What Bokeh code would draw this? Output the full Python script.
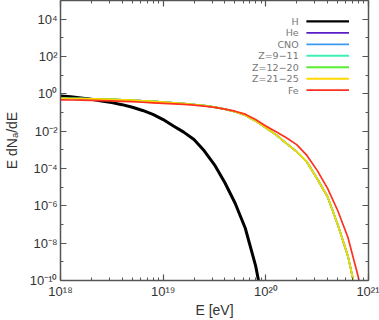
import numpy as np
from bokeh.plotting import figure
from bokeh.models import (LogAxis, FixedTicker, CustomJSTickFormatter,
                          Range1d, ColumnDataSource)
from bokeh.embed import file_html
from bokeh.resources import INLINE
from bokeh.core.properties import value

# ---------------- data (log10 values) ----------------
log10_E = [18.0, 18.1, 18.2, 18.3, 18.4, 18.5, 18.6, 18.7, 18.8, 18.9,
           19.0, 19.1, 19.2, 19.3, 19.4, 19.5, 19.6, 19.7, 19.8, 19.9,
           20.0, 20.1, 20.2, 20.3, 20.4, 20.5, 20.6, 20.7, 20.8, 20.9, 21.0]

log10_H = [-0.11, -0.16, -0.22, -0.29, -0.38, -0.47, -0.58, -0.72, -0.89, -1.10,
           -1.38, -1.72, -2.05, -2.45, -3.05, -3.80, -4.75, -5.85, -7.20, -9.20,
           -12.0]

log10_Z21_25 = [-0.24, -0.25, -0.26, -0.27, -0.28, -0.30, -0.32, -0.34, -0.37, -0.40,
                -0.44, -0.48, -0.52, -0.57, -0.63, -0.71, -0.82, -0.96, -1.15, -1.45,
                -1.82, -2.20, -2.65, -3.10, -3.65, -4.55, -5.50, -7.00, -8.70, -11.2]

log10_Fe = [-0.32, -0.33, -0.34, -0.35, -0.36, -0.38, -0.40, -0.42, -0.45, -0.48,
            -0.51, -0.54, -0.57, -0.60, -0.66, -0.73, -0.82, -0.93, -1.09, -1.38,
            -1.72, -2.03, -2.35, -2.72, -3.30, -4.10, -5.05, -6.25, -7.70, -9.80,
            -12.5]

# intermediate groups are hidden beneath the Z=21-25 curve
log10_He = log10_Z21_25
log10_CNO = log10_Z21_25
log10_Z9_11 = log10_Z21_25
log10_Z12_20 = log10_Z21_25

species = ["H", "He", "CNO", "Z=9\u221211", "Z=12\u221220", "Z=21\u221225", "Fe"]
series = [log10_H, log10_He, log10_CNO, log10_Z9_11, log10_Z12_20, log10_Z21_25, log10_Fe]
colors = ["#000000", "#5a1ec8", "#3a9af0", "#3cf0b4", "#5aee32", "#ffd700", "#ff3020"]
widths = [3.0, 1.7, 1.7, 1.7, 1.7, 1.7, 1.7]

x_major = [1e18, 1e19, 1e20, 1e21]
x_minor = [m * 10.0 ** d for d in (18, 19, 20) for m in range(2, 10)]
y_major = [10.0 ** k for k in range(-10, 5, 2)]
y_minor = [10.0 ** k for k in range(-9, 6, 2)]

# ---------------- figure ----------------
AX = "#555555"
TXT = "#333333"
FONT = "Liberation Sans"

p = figure(width=379, height=320, x_axis_type="log", y_axis_type="log",
           x_range=Range1d(1e18, 1e21), y_range=Range1d(1e-10, 1e5),
           output_backend="svg", toolbar_location=None,
           min_border_left=60, min_border_right=11, min_border_top=0,
           min_border_bottom=39)
p.background_fill_color = "white"
p.border_fill_color = "white"
p.outline_line_color = None
p.xgrid.visible = False
p.ygrid.visible = False

fmt_code = """
const sup = {"0":"\\u2070","1":"\\u00b9","2":"\\u00b2","3":"\\u00b3","4":"\\u2074",
             "5":"\\u2075","6":"\\u2076","7":"\\u2077","8":"\\u2078","9":"\\u2079",
             "-":"\\u207b"};
const e = Math.round(Math.log10(tick));
return "10" + String(e).split("").map(c => sup[c]).join("");
"""


def style_axis(ax, ticks, minors, labels=True):
    ax.ticker = FixedTicker(ticks=ticks, minor_ticks=minors)
    ax.axis_line_color = AX
    ax.axis_line_width = 1.5
    ax.major_tick_line_color = AX
    ax.minor_tick_line_color = AX
    ax.major_tick_line_width = 1.2
    ax.minor_tick_line_width = 1.0
    ax.major_tick_in = 6
    ax.major_tick_out = 0
    ax.minor_tick_in = 3
    ax.minor_tick_out = 0
    ax.formatter = CustomJSTickFormatter(code=fmt_code)
    if labels:
        ax.major_label_text_font = FONT
        ax.major_label_text_font_size = "13px"
        ax.major_label_text_color = TXT
    else:
        ax.major_label_text_font_size = "1px"
        ax.major_label_text_color = None
        ax.major_label_standoff = 0


style_axis(p.xaxis[0], x_major, x_minor)
style_axis(p.yaxis[0], y_major, y_minor)
p.xaxis[0].major_label_standoff = 3
p.yaxis[0].major_label_standoff = 3

for ax, lab, stand in ((p.xaxis[0], "E [eV]", 0),
                       (p.yaxis[0], "E dN\u2090/dE", 7)):
    ax.axis_label = lab
    ax.axis_label_text_font = FONT
    ax.axis_label_text_font_size = "14px"
    ax.axis_label_text_font_style = "normal"
    ax.axis_label_text_color = TXT
    ax.axis_label_standoff = stand

top_ax = LogAxis()
style_axis(top_ax, x_major, x_minor, labels=False)
p.add_layout(top_ax, "above")
right_ax = LogAxis()
style_axis(right_ax, y_major, y_minor, labels=False)
p.add_layout(right_ax, "right")

# ---------------- curves ----------------
for name, vals, col, w in zip(species, series, colors, widths):
    xs = [10.0 ** e for e in log10_E[:len(vals)]]
    ys = [10.0 ** v for v in vals]
    p.line(xs, ys, line_color=col, line_width=w)

# ---------------- legend (text left, sample line right) ----------------
leg_top = 3.88
leg_step = 0.614
rows = [10.0 ** (leg_top - i * leg_step) for i in range(len(species))]
p.text(x=[10.0 ** 20.32] * len(species), y=rows, text=species,
       text_align="right", text_baseline="middle",
       text_font=value("DejaVu Sans"), text_font_size="9.5px",
       text_color="#777777")
seg = ColumnDataSource(dict(x0=[10.0 ** 20.395] * len(species),
                            x1=[10.0 ** 20.81] * len(species),
                            y=rows, c=colors, w=[2.2] + [1.9] * 6))
p.segment(x0="x0", x1="x1", y0="y", y1="y", line_color="c", line_width="w",
          source=seg)

open("out.html", "w", encoding="utf-8").write(file_html(p, INLINE))
